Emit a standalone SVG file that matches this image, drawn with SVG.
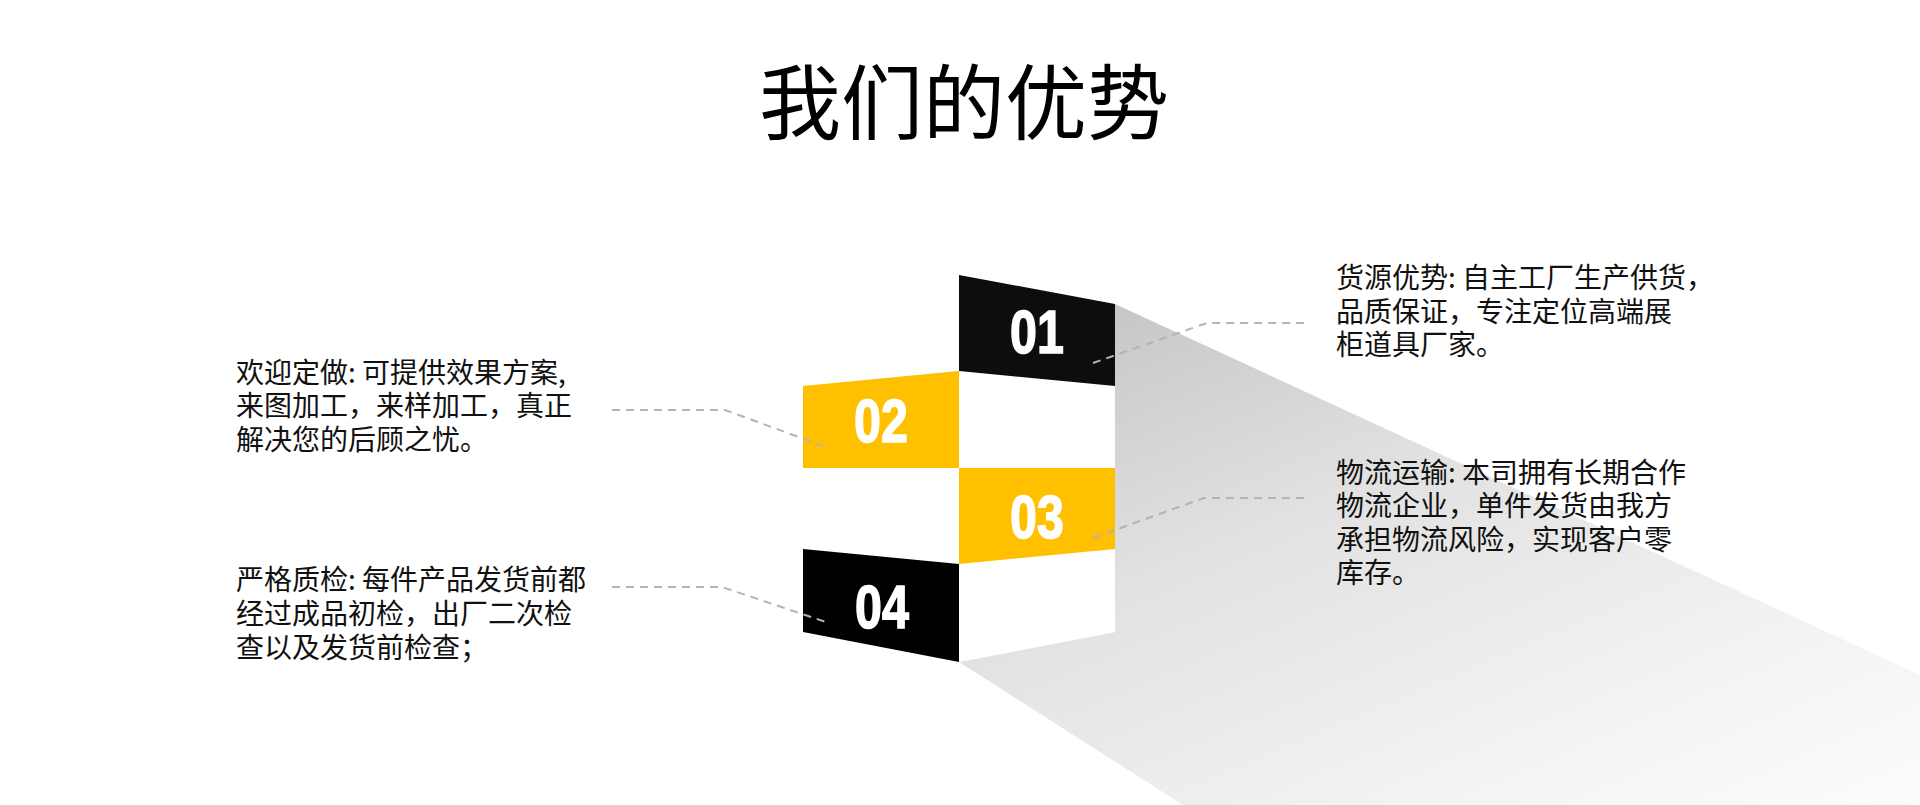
<svg xmlns="http://www.w3.org/2000/svg" width="1920" height="805" viewBox="0 0 1920 805">
  <defs>
    <linearGradient id="shadowGrad" gradientUnits="userSpaceOnUse" x1="1115" y1="320" x2="1437" y2="1080">
      <stop offset="0" stop-color="#c8c8c8"/>
      <stop offset="0.31" stop-color="#e2e2e2"/>
      <stop offset="0.7" stop-color="#f4f4f4"/>
      <stop offset="1" stop-color="#ffffff"/>
    </linearGradient>
    <style>
      .title { font-family: "Noto Sans CJK SC", "Noto Sans", sans-serif; font-size: 82px; fill: #000; }
      .desc { font-family: "Noto Sans CJK SC", "Noto Sans", sans-serif; font-size: 28px; fill: #111; }
      .num { font-family: "Liberation Sans", "Arial", sans-serif; font-weight: bold; font-size: 62px; fill: #fff; stroke: #fff; stroke-width: 1.6; text-anchor: middle; }
      .dash { fill: none; stroke: #b4b4b4; stroke-width: 2; stroke-dasharray: 8 6; }
      .black { fill: #0d0d0d; }
      .black2 { fill: #000; }
      .yellow { fill: #ffc000; }
      .white { fill: #fff; }
    </style>
  </defs>

  <rect x="0" y="0" width="1920" height="805" fill="#fff"/>

  <g id="title">
    <text class="title" x="964" y="133" text-anchor="middle">我们的优势</text>
  </g>

  <g id="shadow">
    <polygon points="1115,304 1920,675 1920,805 1183,805 959,662 1115,632" fill="url(#shadowGrad)"/>
  </g>

  <g id="column">
    <polygon class="white" points="959,371 1115,386 1115,468 959,468"/>
    <polygon class="white" points="803,468 959,468 959,564 803,549"/>
    <polygon class="white" points="959,564 1115,549 1115,632 959,662"/>
  </g>

  <g id="node-01">
    <polygon class="black" points="959,275 1115,304 1115,386 959,371"/>
    <text class="num" transform="translate(1037,353) scale(0.78,1)">01</text>
  </g>
  <g id="node-02">
    <polygon class="yellow" points="803,386 959,371 959,468 803,468"/>
    <text class="num" transform="translate(881,442) scale(0.78,1)">02</text>
  </g>
  <g id="node-03">
    <polygon class="yellow" points="959,468 1115,468 1115,549 959,564"/>
    <text class="num" transform="translate(1037,538) scale(0.78,1)">03</text>
  </g>
  <g id="node-04">
    <polygon class="black2" points="803,549 959,564 959,662 803,632"/>
    <text class="num" transform="translate(882,628) scale(0.78,1)">04</text>
  </g>

  <g id="connectors">
    <polyline class="dash" points="1093,363 1207,323 1310,323"/>
    <polyline class="dash" points="612,410 725,410 826,447"/>
    <polyline class="dash" points="1093,538 1204,498 1310,498"/>
    <polyline class="dash" points="612,587 722,587 826,622"/>
  </g>

  <g id="text-01">
    <text class="desc" x="1336" y="288">货源优势: 自主工厂生产供货，</text>
    <text class="desc" x="1336" y="322">品质保证，专注定位高端展</text>
    <text class="desc" x="1336" y="355">柜道具厂家。</text>
  </g>
  <g id="text-02">
    <text class="desc" x="236" y="383">欢迎定做: 可提供效果方案,</text>
    <text class="desc" x="236" y="416">来图加工，来样加工，真正</text>
    <text class="desc" x="236" y="450">解决您的后顾之忧。</text>
  </g>
  <g id="text-03">
    <text class="desc" x="1336" y="483">物流运输: 本司拥有长期合作</text>
    <text class="desc" x="1336" y="516">物流企业，单件发货由我方</text>
    <text class="desc" x="1336" y="550">承担物流风险，实现客户零</text>
    <text class="desc" x="1336" y="583">库存。</text>
  </g>
  <g id="text-04">
    <text class="desc" x="236" y="590">严格质检: 每件产品发货前都</text>
    <text class="desc" x="236" y="624">经过成品初检，出厂二次检</text>
    <text class="desc" x="236" y="658">查以及发货前检查；</text>
  </g>
</svg>
